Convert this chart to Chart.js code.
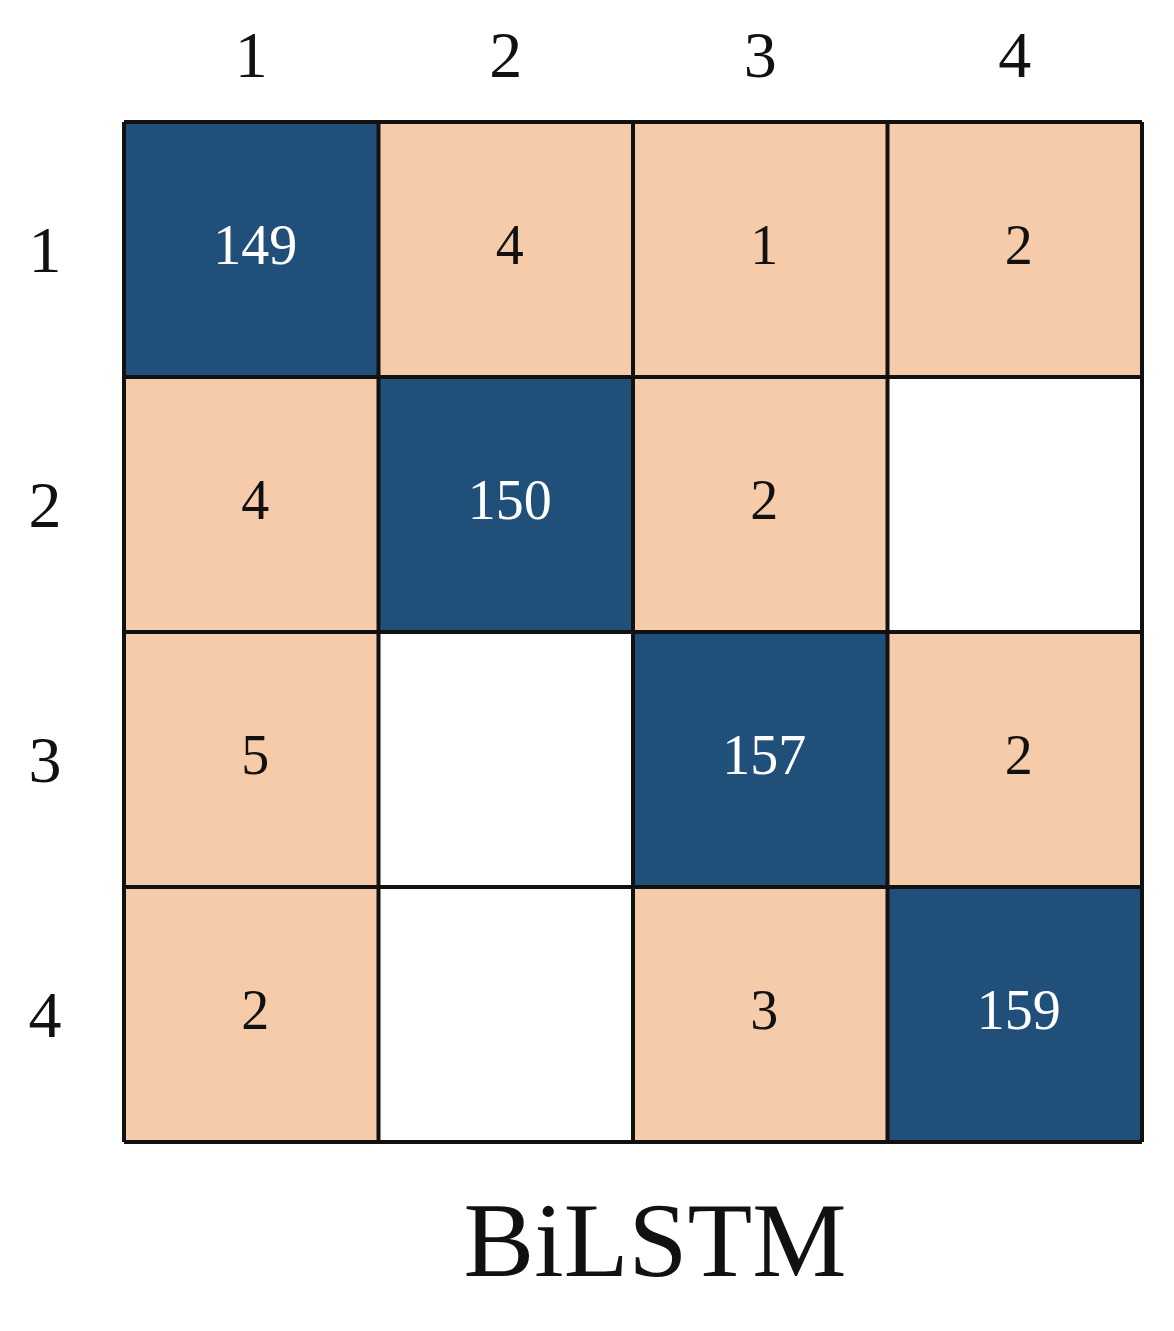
<!DOCTYPE html>
<html><head><meta charset="utf-8">
<script src="https://cdn.jsdelivr.net/npm/chart.js@4/dist/chart.umd.min.js"></script>
<style>html,body{margin:0;padding:0;background:#fff}#c{display:block}</style>
</head><body>
<div style="width:1174px;height:1331px"><canvas id="c"></canvas></div>
<script>
const categories = ["1","2","3","4"];
const title = "BiLSTM";
// rows = actual (row labels), cols = predicted (column labels); null = empty cell
const row1 = [149, 4, 1, 2];
const row2 = [4, 150, 2, null];
const row3 = [5, null, 157, 2];
const row4 = [2, null, 3, 159];
const matrix = [row1, row2, row3, row4];

const points = [];
matrix.forEach((r, i) => r.forEach((v, j) => points.push({x: j + 1, y: i + 1, v})));

const DARK = '#204f7a', LIGHT = '#f6cbaa';
const cellPlugin = {
  id: 'cells',
  afterDatasetsDraw(chart) {
    const {ctx, scales: {x, y}} = chart;
    const pts = chart.data.datasets[0].data;
    ctx.save();
    pts.forEach(p => {
      const x0 = x.getPixelForValue(p.x - 0.5), x1 = x.getPixelForValue(p.x + 0.5);
      const y0 = y.getPixelForValue(p.y - 0.5), y1 = y.getPixelForValue(p.y + 0.5);
      ctx.fillStyle = p.v == null ? '#ffffff' : (p.x === p.y ? DARK : LIGHT);
      ctx.fillRect(x0, y0, x1 - x0, y1 - y0);
      if (p.v != null) {
        ctx.fillStyle = p.x === p.y ? '#ffffff' : '#111111';
        ctx.font = '56px "Liberation Serif", serif';
        ctx.textAlign = 'center'; ctx.textBaseline = 'middle';
        ctx.fillText(String(p.v), (x0 + x1) / 2 + 4, (y0 + y1) / 2);
      }
    });
    ctx.strokeStyle = '#111'; ctx.lineWidth = 4;
    for (let k = 0; k <= categories.length; k++) {
      const px = x.getPixelForValue(k + 0.5), py = y.getPixelForValue(k + 0.5);
      ctx.beginPath(); ctx.moveTo(px, y.getPixelForValue(0.5)); ctx.lineTo(px, y.getPixelForValue(4.5)); ctx.stroke();
      ctx.beginPath(); ctx.moveTo(x.getPixelForValue(0.5), py); ctx.lineTo(x.getPixelForValue(4.5), py); ctx.stroke();
    }
    ctx.fillStyle = '#111';
    ctx.font = '66px "Liberation Serif", serif';
    ctx.textAlign = 'center'; ctx.textBaseline = 'middle';
    categories.forEach((c, i) => {
      ctx.fillText(c, x.getPixelForValue(i + 1), 60);
      ctx.fillText(c, 45, y.getPixelForValue(i + 1) + 5);
    });
    ctx.font = '106px "Liberation Serif", serif';
    ctx.fillText(title, 655, 1248);
    ctx.restore();
  }
};

new Chart(document.getElementById('c'), {
  type: 'scatter',
  data: {datasets: [{data: points, pointRadius: 0}]},
  options: {
    responsive: true, maintainAspectRatio: false, animation: false,
    layout: {padding: {left: 124, right: 32, top: 122, bottom: 189}},
    plugins: {legend: {display: false}, tooltip: {enabled: false}},
    scales: {
      x: {type: 'linear', min: 0.5, max: 4.5, display: false},
      y: {type: 'linear', min: 0.5, max: 4.5, reverse: true, display: false}
    }
  },
  plugins: [cellPlugin]
});
</script>
</body></html>
